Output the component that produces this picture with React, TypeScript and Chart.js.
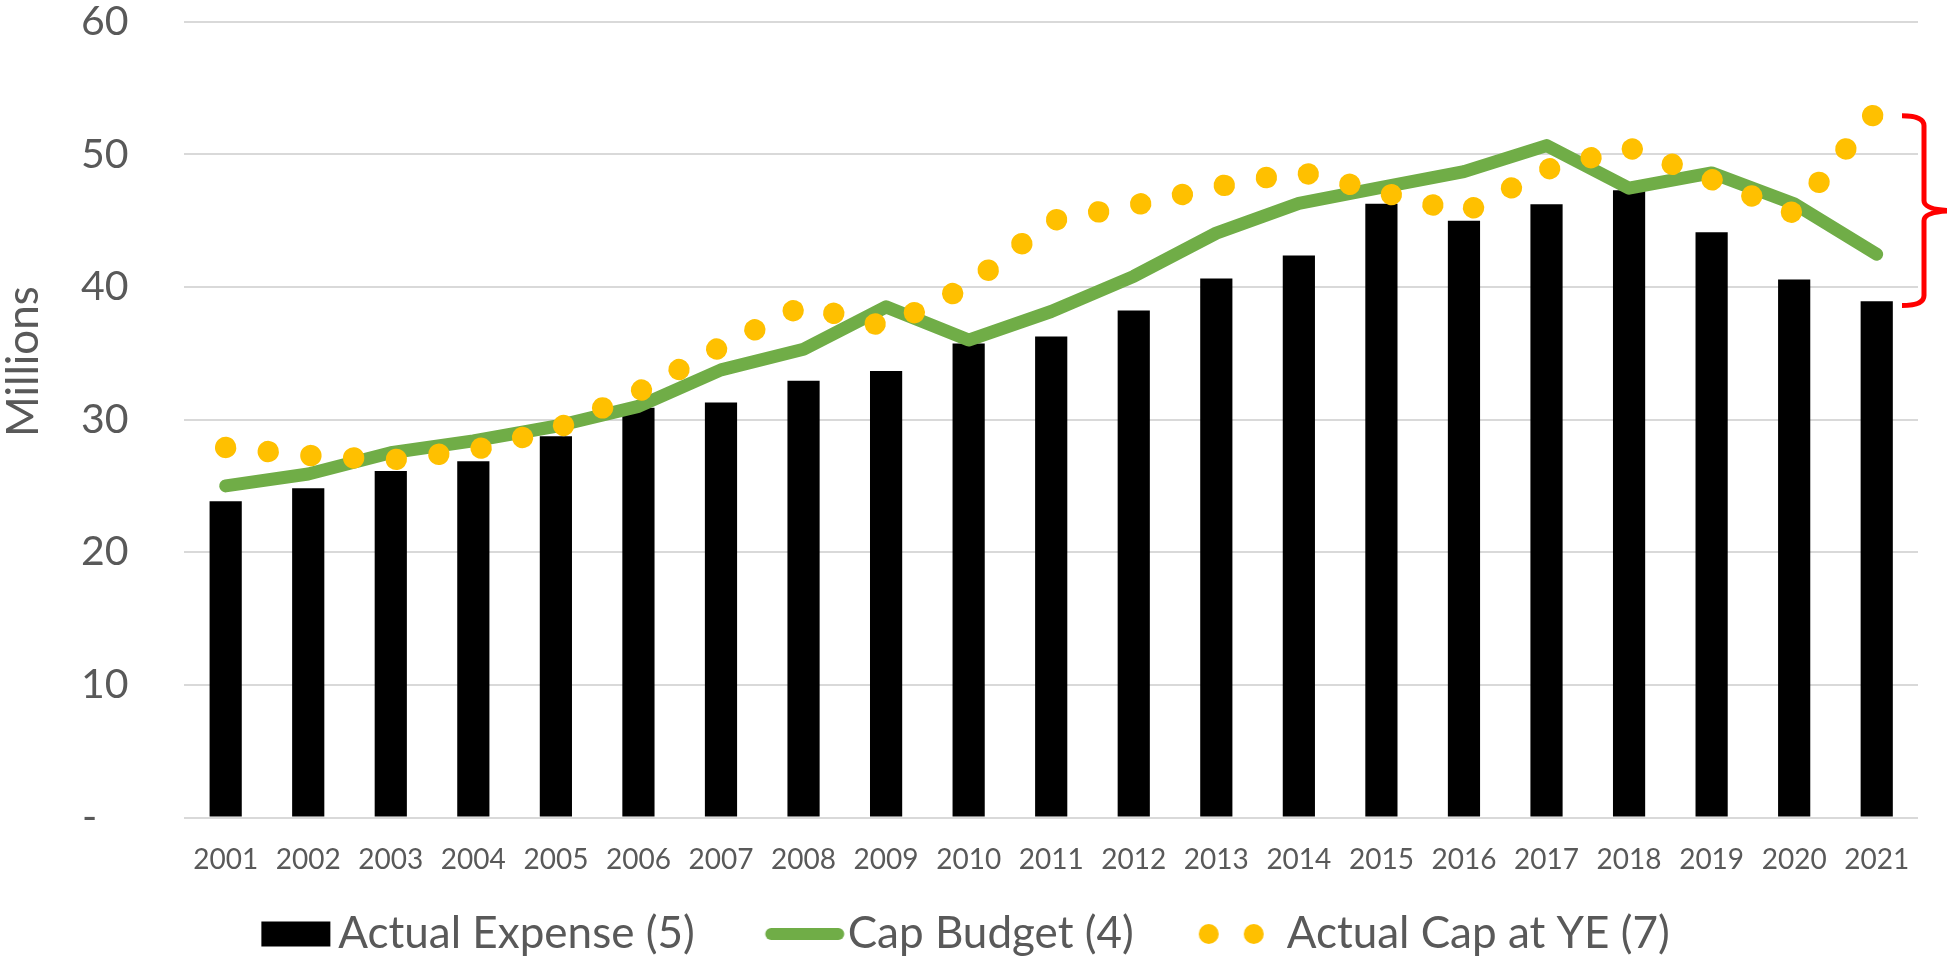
import React, { useEffect, useRef } from 'react';
import { Chart, registerables } from 'chart.js';

Chart.register(...registerables);

const FONT = "Lato, 'Open Sans', 'DejaVu Sans', sans-serif";
const TEXT = '#595959';

const years = ['2001', '2002', '2003', '2004', '2005', '2006', '2007', '2008', '2009', '2010', '2011', '2012', '2013', '2014', '2015', '2016', '2017', '2018', '2019', '2020', '2021'];
const actualExpense = [23.85, 24.83, 26.13, 26.86, 28.75, 30.9, 31.28, 32.92, 33.67, 35.73, 36.26, 38.22, 40.63, 42.37, 46.27, 45.0, 46.24, 47.3, 44.13, 40.56, 38.93];
const capBudget = [25.0, 25.9, 27.5, 28.4, 29.5, 31.0, 33.75, 35.3, 38.5, 36.0, 38.15, 40.8, 44.06, 46.3, 47.5, 48.7, 50.66, 47.45, 48.6, 46.27, 42.47];
const actualCapYE = [27.9, 27.3, 26.95, 27.7, 29.3, 32.1, 35.5, 38.6, 37.0, 40.1, 45.0, 46.15, 47.55, 48.7, 47.15, 45.6, 48.85, 50.5, 48.1, 45.55, 53.3];
const seriesLabels = ['Actual Expense (5)', 'Cap Budget (4)', 'Actual Cap at YE (7)'];
const yMin = 0;
const yMax = 60;
const yStep = 10;
const zeroLabel = '-';
const yTitle = 'Millions';
const bracketRange = [52.9, 38.6];

const PAD_LEFT = -33;
const PAD_BOTTOM = -9;
const LEGEND_BOX = 101;
const LEGEND_PAD = 30;
const LEGEND_FONT = 44;
const ICON_W = LEGEND_BOX + LEGEND_FONT;
const X_AXIS_H = 64.5;
const DOT_SIZE = 21.4;
const DOT_SPACING = 42.8;

function makeIcon(draw: (ctx: CanvasRenderingContext2D) => void): HTMLCanvasElement {
  const c = document.createElement('canvas');
  c.width = ICON_W;
  c.height = 32;
  const ctx = c.getContext('2d') as CanvasRenderingContext2D;
  draw(ctx);
  return c;
}

const annotations = {
  id: 'annotations',
  afterDraw(chart: any) {
    const { ctx, chartArea, scales } = chart;
    const y = scales.y;
    ctx.save();
    ctx.fillStyle = TEXT;
    ctx.font = `44px ${FONT}`;
    ctx.textAlign = 'center';
    ctx.textBaseline = 'alphabetic';
    ctx.translate(chartArea.left - 146, (chartArea.top + chartArea.bottom) / 2 - 58);
    ctx.rotate(-Math.PI / 2);
    ctx.fillText(yTitle, 0, 0);
    ctx.restore();

    const yT = y.getPixelForValue(bracketRange[0]);
    const yB = y.getPixelForValue(bracketRange[1]);
    const yM = (yT + yB) / 2;
    const x0 = chartArea.right - 16;
    const xv = chartArea.right + 6;
    const xt = chartArea.right + 40;
    const r = 10;
    ctx.save();
    ctx.strokeStyle = '#ff0000';
    ctx.lineWidth = 5;
    ctx.lineJoin = 'round';
    ctx.beginPath();
    ctx.moveTo(x0, yT);
    ctx.quadraticCurveTo(xv, yT, xv, yT + r);
    ctx.lineTo(xv, yM - r);
    ctx.quadraticCurveTo(xv, yM, xt, yM);
    ctx.quadraticCurveTo(xv, yM, xv, yM + r);
    ctx.lineTo(xv, yB - r);
    ctx.quadraticCurveTo(xv, yB, x0, yB);
    ctx.stroke();
    ctx.restore();
  },
};

export default function App() {
  const ref = useRef<HTMLCanvasElement | null>(null);

  useEffect(() => {
    if (!ref.current) return;
    const icons = [
      makeIcon((c) => {
        c.fillStyle = '#000000';
        c.fillRect(68, 3.5, 69, 25);
      }),
      makeIcon((c) => {
        c.strokeStyle = '#70ad47';
        c.lineWidth = 12;
        c.lineCap = 'round';
        c.beginPath();
        c.moveTo(68.5, 16);
        c.lineTo(135.5, 16);
        c.stroke();
      }),
      makeIcon((c) => {
        c.fillStyle = '#ffc000';
        c.beginPath();
        c.arc(67, 16, 10, 0, Math.PI * 2);
        c.fill();
        c.beginPath();
        c.arc(112, 16, 10, 0, Math.PI * 2);
        c.fill();
      }),
    ];

    const chart = new Chart(ref.current, {
      type: 'bar',
      data: {
        labels: years,
        datasets: [
          {
            type: 'bar',
            label: seriesLabels[0],
            data: actualExpense,
            backgroundColor: '#000000',
            barPercentage: 0.39,
            categoryPercentage: 1.0,
            order: 3,
          },
          {
            type: 'line',
            label: seriesLabels[1],
            data: capBudget,
            borderColor: '#70ad47',
            borderWidth: 13,
            borderCapStyle: 'round',
            borderJoinStyle: 'round',
            pointRadius: 0,
            tension: 0,
            fill: false,
            order: 2,
          },
          {
            type: 'line',
            label: seriesLabels[2],
            data: actualCapYE,
            borderColor: '#ffc000',
            borderWidth: DOT_SIZE,
            borderCapStyle: 'round',
            borderJoinStyle: 'round',
            borderDash: [0.01, DOT_SPACING - 0.01],
            pointRadius: 0,
            tension: 0,
            fill: false,
            order: 1,
          },
        ] as any,
      },
      options: {
        animation: false,
        responsive: true,
        maintainAspectRatio: false,
        layout: { padding: { top: 21.7, right: 29, bottom: PAD_BOTTOM, left: PAD_LEFT } },
        font: { family: FONT },
        plugins: {
          tooltip: { enabled: false },
          legend: {
            position: 'bottom',
            labels: {
              usePointStyle: true,
              pointStyleWidth: LEGEND_BOX,
              padding: LEGEND_PAD,
              color: TEXT,
              font: { family: FONT, size: LEGEND_FONT },
              generateLabels: () =>
                seriesLabels.map((t, i) => ({
                  text: t,
                  pointStyle: icons[i],
                  fillStyle: 'rgba(0,0,0,0)',
                  strokeStyle: 'rgba(0,0,0,0)',
                  lineWidth: 0,
                  hidden: false,
                  datasetIndex: i,
                  fontColor: TEXT,
                })) as any,
            },
          },
        },
        scales: {
          x: {
            grid: { display: false, drawTicks: false },
            border: { display: false },
            ticks: { color: TEXT, font: { family: FONT, size: 28 }, padding: 26, maxRotation: 0, autoSkip: false },
            afterFit: (s: any) => {
              s.height = X_AXIS_H;
            },
          },
          y: {
            min: yMin,
            max: yMax,
            grid: { color: '#d9d9d9', lineWidth: 2, drawTicks: true, tickLength: 55.8, tickColor: 'rgba(0,0,0,0)' },
            border: { display: false },
            ticks: {
              stepSize: yStep,
              color: TEXT,
              padding: 0,
              font: { family: FONT, size: 41, lineHeight: 1 },
              callback: (v: any) => (Number(v) === 0 ? zeroLabel + '   ' : String(v)),
            },
            afterFit: (s: any) => {
              s.width = 184.4 - PAD_LEFT;
            },
          },
        },
      } as any,
      plugins: [annotations],
    });
    return () => chart.destroy();
  }, []);

  return (
    <div style={{ position: 'fixed', left: 0, top: 0, width: '1947px', height: '957px', background: '#ffffff' }}>
      <canvas ref={ref} />
    </div>
  );
}
